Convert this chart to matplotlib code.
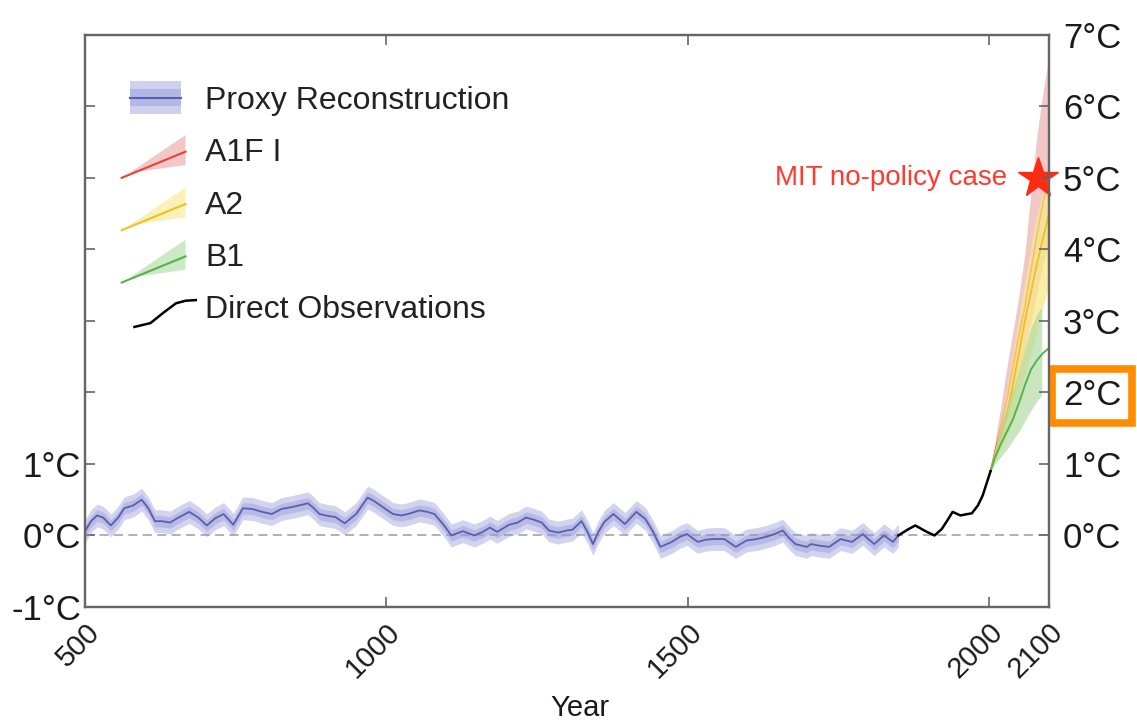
import matplotlib
matplotlib.use("Agg")
import matplotlib.pyplot as plt
import matplotlib.transforms as mtransforms
from matplotlib.legend_handler import HandlerBase
from matplotlib.patches import Polygon, Rectangle
from matplotlib.lines import Line2D

plt.rcParams['font.family'] = ['Liberation Sans', 'DejaVu Sans']

# proxy reconstruction (anomaly, deg C)
proxy_years = [500, 510, 520, 530, 543, 555, 565, 580, 594, 605, 616, 628, 641, 655,
               673, 688, 702, 716, 730, 746, 762, 778, 794, 810, 826, 845, 870, 880,
               889, 905, 915, 931, 950, 969, 980, 992, 1011, 1025, 1036, 1055, 1068,
               1080, 1095, 1108, 1127, 1146, 1160, 1172, 1184, 1204, 1218, 1232, 1245,
               1258, 1270, 1285, 1300, 1309, 1324, 1334, 1343, 1352, 1362, 1377, 1396,
               1415, 1430, 1443, 1455, 1474, 1487, 1499, 1517, 1530, 1542, 1561, 1580,
               1598, 1615, 1630, 1645, 1658, 1668, 1679, 1698, 1705, 1717, 1735, 1754,
               1773, 1791, 1800, 1810, 1826, 1841, 1850]
proxy_temp = [0.06, 0.2, 0.28, 0.25, 0.14, 0.25, 0.38, 0.42, 0.5, 0.38, 0.2, 0.2, 0.18, 0.25,
              0.33, 0.25, 0.14, 0.24, 0.3, 0.15, 0.38, 0.37, 0.33, 0.3, 0.37, 0.4, 0.45, 0.38,
              0.3, 0.27, 0.26, 0.17, 0.3, 0.53, 0.48, 0.41, 0.3, 0.28, 0.3, 0.35, 0.33,
              0.3, 0.15, 0.0, 0.06, 0.0, 0.05, 0.11, 0.05, 0.15, 0.18, 0.25, 0.22,
              0.18, 0.07, 0.04, 0.07, 0.08, 0.2, 0.05, -0.12, 0.05, 0.19, 0.3, 0.16,
              0.33, 0.23, 0.05, -0.16, -0.09, -0.02, 0.02, -0.09, -0.06, -0.05, -0.05, -0.16,
              -0.07, -0.05, -0.02, 0.02, 0.07, -0.03, -0.12, -0.16, -0.12, -0.14, -0.16, -0.05,
              -0.09, 0.02, -0.05, -0.12, 0.0, -0.09, 0.0]
proxy_err_outer = 0.16
proxy_err_inner = 0.08

# direct observations
obs_years = [1850, 1865, 1878, 1895, 1910, 1922, 1932, 1940, 1953, 1965, 1972, 1982, 1990, 2003]
obs_temp = [0.0, 0.08, 0.14, 0.06, 0.0, 0.09, 0.22, 0.33, 0.28, 0.3, 0.31, 0.42, 0.56, 0.9]

# scenario projections
proj_years = [2003, 2010, 2020, 2030, 2040, 2050, 2060, 2070, 2080, 2090, 2100]
a1fi_mid = [0.9, 1.15, 1.5, 1.9, 2.35, 2.8, 3.2, 3.7, 4.2, 4.65, 5.0]
a1fi_lo = [0.9, 1.1, 1.35, 1.6, 1.9, 2.25, 2.6, 3.0, 3.4, 3.8, 4.1]
a1fi_hi = [0.9, 1.3, 1.8, 2.35, 2.85, 3.35, 3.95, 4.8, 5.6, 6.2, 6.7]
a2_mid = [0.9, 1.12, 1.4, 1.7, 2.1, 2.55, 3.0, 3.4, 3.8, 4.15, 4.5]
a2_lo = [0.9, 1.05, 1.2, 1.4, 1.65, 1.95, 2.25, 2.55, 2.85, 3.2, 3.5]
a2_hi = [0.9, 1.2, 1.6, 2.05, 2.55, 3.05, 3.55, 4.05, 4.5, 4.8, 4.95]
b1_mid = [0.9, 1.08, 1.28, 1.45, 1.62, 1.85, 2.1, 2.32, 2.45, 2.55, 2.62]
b1_band_years = [2003, 2010, 2020, 2030, 2040, 2050, 2060, 2070, 2080, 2088]
b1_lo = [0.9, 1.0, 1.1, 1.2, 1.33, 1.45, 1.6, 1.75, 1.88, 1.96]
b1_hi = [0.9, 1.2, 1.5, 1.8, 2.05, 2.3, 2.6, 2.9, 3.1, 3.2]

star_year, star_temp = 2081, 5.0

x_ticks = [500, 1000, 1500, 2000, 2100]
left_ticks = [-1, 0, 1, 2, 3, 4, 5, 6, 7]
left_labels = ['-1°C', '0°C', '1°C', '', '', '', '', '', '']
right_ticks = [0, 1, 2, 3, 4, 5, 6, 7]
right_labels = ['0°C', '1°C', '2°C', '3°C', '4°C', '5°C', '6°C', '7°C']

BLUE = '#5a5eb2'
BLUE_BAND = '#9598d8'
RED = '#ea4035'
RED_BAND = '#eaa3a3'
YEL = '#f0c020'
YEL_BAND = '#f7e98a'
GRN = '#55b447'
GRN_BAND = '#acd99f'
SPINE = '#666666'
TXT = '#1a1a1a'


class ProxyHandler(HandlerBase):
    def create_artists(self, legend, orig_handle, xdescent, ydescent,
                       width, height, fontsize, trans):
        x0 = -xdescent + 0.13 * width
        w = 0.8 * width
        c = -ydescent + height / 2
        outer = Rectangle((x0, c - 0.52 * fontsize), w, 1.04 * fontsize,
                          fc=BLUE_BAND, alpha=0.45, ec='none', transform=trans)
        inner = Rectangle((x0, c - 0.26 * fontsize), w, 0.52 * fontsize,
                          fc=BLUE_BAND, alpha=0.45, ec='none', transform=trans)
        line = Line2D([x0, x0 + w], [c, c], color=BLUE, lw=1.5, transform=trans)
        return [outer, inner, line]


class WedgeHandler(HandlerBase):
    def create_artists(self, legend, orig_handle, xdescent, ydescent,
                       width, height, fontsize, trans):
        x0 = -xdescent
        c = -ydescent + height / 2
        col = orig_handle.get_color()
        band = orig_handle.get_markerfacecolor()
        poly = Polygon([[x0 + 0.12 * width, c - 0.72 * fontsize],
                        [x0 + width, c + 0.47 * fontsize],
                        [x0 + width, c - 0.47 * fontsize]],
                       closed=True, fc=band, alpha=0.6, ec='none', transform=trans)
        line = Line2D([x0, x0 + width], [c - 0.87 * fontsize, c - 0.05 * fontsize],
                      color=col, lw=1.5, transform=trans)
        return [poly, line]


class ObsHandler(HandlerBase):
    def create_artists(self, legend, orig_handle, xdescent, ydescent,
                       width, height, fontsize, trans):
        x0 = -xdescent
        c = -ydescent + height / 2
        xs = [x0 + f * width for f in (0.2, 0.45, 0.65, 0.85, 1.0, 1.16)]
        ys = [c + f * fontsize for f in (-0.62, -0.5, -0.18, 0.12, 0.2, 0.22)]
        line = Line2D(xs, ys, color='black', lw=1.8, transform=trans)
        return [line]


fig = plt.figure(figsize=(11.37, 7.25), dpi=100)
ax = fig.add_axes([0.0748, 0.1628, 0.8478, 0.789])

ax.axhline(0, color='#aaaaaa', lw=1.3, ls=(0, (5, 3)), zorder=1)

ax.fill_between(proxy_years, [t - proxy_err_outer for t in proxy_temp],
                [t + proxy_err_outer for t in proxy_temp],
                color=BLUE_BAND, alpha=0.42, lw=0, zorder=2)
ax.fill_between(proxy_years, [t - proxy_err_inner for t in proxy_temp],
                [t + proxy_err_inner for t in proxy_temp],
                color=BLUE_BAND, alpha=0.42, lw=0, zorder=2)
ax.plot(proxy_years, proxy_temp, color=BLUE, lw=1.3, zorder=3)

# red first, yellow band over it, green on top
ax.fill_between(proj_years, a1fi_lo, a1fi_hi, color=RED_BAND, alpha=0.6, lw=0, zorder=2)
ax.plot(proj_years, a1fi_mid, color=RED, lw=1.2, zorder=2.1)
ax.fill_between(proj_years, a2_lo, a2_hi, color=YEL_BAND, alpha=0.75, lw=0, zorder=2.2)
ax.plot(proj_years, a2_mid, color=YEL, lw=1.3, zorder=2.3)
ax.fill_between(b1_band_years, b1_lo, b1_hi, color=GRN_BAND, alpha=0.65, lw=0, zorder=2.4)
ax.plot(proj_years, b1_mid, color=GRN, lw=1.4, zorder=2.5)

ax.plot(obs_years, obs_temp, color='black', lw=1.8, zorder=4)

ax.plot(star_year, star_temp, marker='*', ms=30, color='#ff2a12', mec='#ff2a12',
        clip_on=False, zorder=6)
ax.text(2030, star_temp, 'MIT no-policy case', color='#ff3b30', fontsize=20,
        ha='right', va='center', zorder=6)

ax.set_xlim(500, 2100)
ax.set_ylim(-1, 7)

ax.set_xticks(x_ticks)
ax.set_xticklabels([str(t) for t in x_ticks], rotation=45, ha='right', va='top',
                   rotation_mode='anchor', fontsize=21)
shift = mtransforms.ScaledTranslation(7 / 100, 0, fig.dpi_scale_trans)
for lab in ax.get_xticklabels():
    lab.set_transform(lab.get_transform() + shift)
ax.set_yticks(left_ticks)
ax.set_yticklabels(left_labels, fontsize=25)
ax.tick_params(axis='x', direction='in', top=True, length=7, width=1.2,
               color=SPINE, pad=8, labelcolor=TXT)
ax.tick_params(axis='y', direction='in', length=7, width=1.2, color=SPINE,
               pad=3, labelcolor=TXT)

ax2 = ax.twinx()
ax2.set_ylim(-1, 7)
ax2.set_yticks(right_ticks)
ax2.set_yticklabels(right_labels, fontsize=25)
ax2.tick_params(axis='y', direction='in', length=7, width=1.2, color=SPINE,
                pad=10, labelcolor=TXT)
for lab in ax2.get_yticklabels():
    if lab.get_text() == '2°C':
        lab.set_bbox(dict(boxstyle='square,pad=0.3', fc='white', ec='#ff8c00', lw=5.5))

for a in (ax, ax2):
    for sp in a.spines.values():
        sp.set_color(SPINE)
        sp.set_linewidth(1.6)

ax.set_xlabel('Year', fontsize=21, color=TXT)
ax.xaxis.set_label_coords(0.513, -0.152)

h_proxy = Line2D([], [], color=BLUE)
h_a1fi = Line2D([], [], color=RED, markerfacecolor=RED_BAND)
h_a2 = Line2D([], [], color=YEL, markerfacecolor=YEL_BAND)
h_b1 = Line2D([], [], color=GRN, markerfacecolor=GRN_BAND)
h_obs = Line2D([], [], color='black')
leg = ax.legend([h_proxy, h_a1fi, h_a2, h_b1, h_obs],
                ['Proxy Reconstruction', 'A1F I', 'A2', 'B1', 'Direct Observations'],
                handler_map={h_proxy: ProxyHandler(), h_a1fi: WedgeHandler(),
                             h_a2: WedgeHandler(), h_b1: WedgeHandler(),
                             h_obs: ObsHandler()},
                loc='upper left', bbox_to_anchor=(0.038, 0.911), frameon=False,
                fontsize=23, handlelength=2.0, handletextpad=0.62, labelspacing=0.7,
                borderpad=0, borderaxespad=0)
for t in leg.get_texts():
    t.set_color('#222222')
leg.set_zorder(7)

fig.savefig('out.png', dpi=100)
